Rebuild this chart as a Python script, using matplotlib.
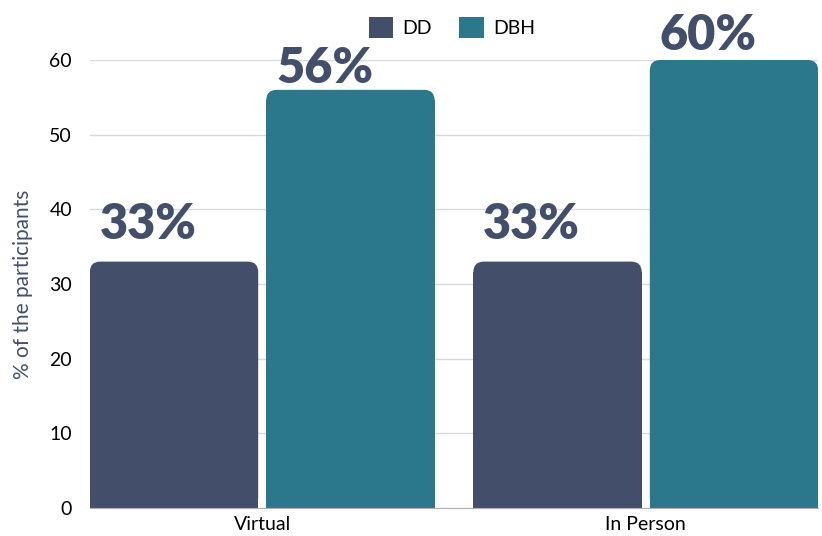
import matplotlib.pyplot as plt
from matplotlib.patches import FancyBboxPatch
import numpy as np

categories = ['Virtual', 'In Person']
dd_values = [33, 33]
dbh_values = [56, 60]
series_names = ['DD', 'DBH']
colors = ['#434f6a', '#2b778c']
label_offsets = [[16, 16], [5, 7]]  # points above bar top, per series / category

plt.rcParams['font.family'] = ['Lato', 'DejaVu Sans']

fig = plt.figure(figsize=(8.22, 5.36), dpi=100)
ax = fig.add_axes([90/822, 1 - 508/536, 728/822, 448/536])

x = np.arange(len(categories))
width = 0.439
gap = 0.021
ax.set_xlim(-0.449, 1.449)
ax.set_ylim(0, 60)

# rounding size in data units (x) and the y/x aspect for it
rx = 0.027
ry = 1.4
for i, (vals, name, col) in enumerate(zip([dd_values, dbh_values], series_names, colors)):
    pos = x - width / 2 - gap / 2 + i * (width + gap)
    bars = ax.bar(pos, [v - ry for v in vals], width, color=col, label=name, zorder=2)
    for b, v, off in zip(bars, vals, label_offsets[i]):
        bx = b.get_x()
        ax.add_patch(FancyBboxPatch((bx, 0), width, v,
                                    boxstyle=f'round,pad=0,rounding_size={rx}',
                                    mutation_aspect=ry / rx,
                                    facecolor=col, edgecolor='none', zorder=2))
        ax.annotate(f'{v}%', (bx, v), xytext=(7, off), textcoords='offset points',
                    ha='left', va='baseline', fontsize=35, fontweight='heavy',
                    color='#434f6a', zorder=3)

ax.set_xticks(x)
ax.set_xticklabels(categories, fontsize=14)
ax.set_yticks(range(0, 61, 10))
ax.tick_params(axis='y', length=0, pad=13, labelsize=14)
ax.tick_params(axis='x', length=0, pad=6)
ax.yaxis.grid(color='#d9d9d9', linewidth=1, zorder=0)
ax.set_axisbelow(True)
for s in ['top', 'right', 'left']:
    ax.spines[s].set_visible(False)
ax.spines['bottom'].set_color('#b0b0b0')
ax.set_ylabel('% of the participants', fontsize=15, color='#434f6a', labelpad=12)

ax.legend(loc='upper center', bbox_to_anchor=(452/822, 1.0), bbox_transform=fig.transFigure,
          ncol=2, frameon=False, fontsize=14, handlelength=1.25, handleheight=1.25,
          columnspacing=1.4, handletextpad=0.5)

fig.savefig('out.png', dpi=100)
